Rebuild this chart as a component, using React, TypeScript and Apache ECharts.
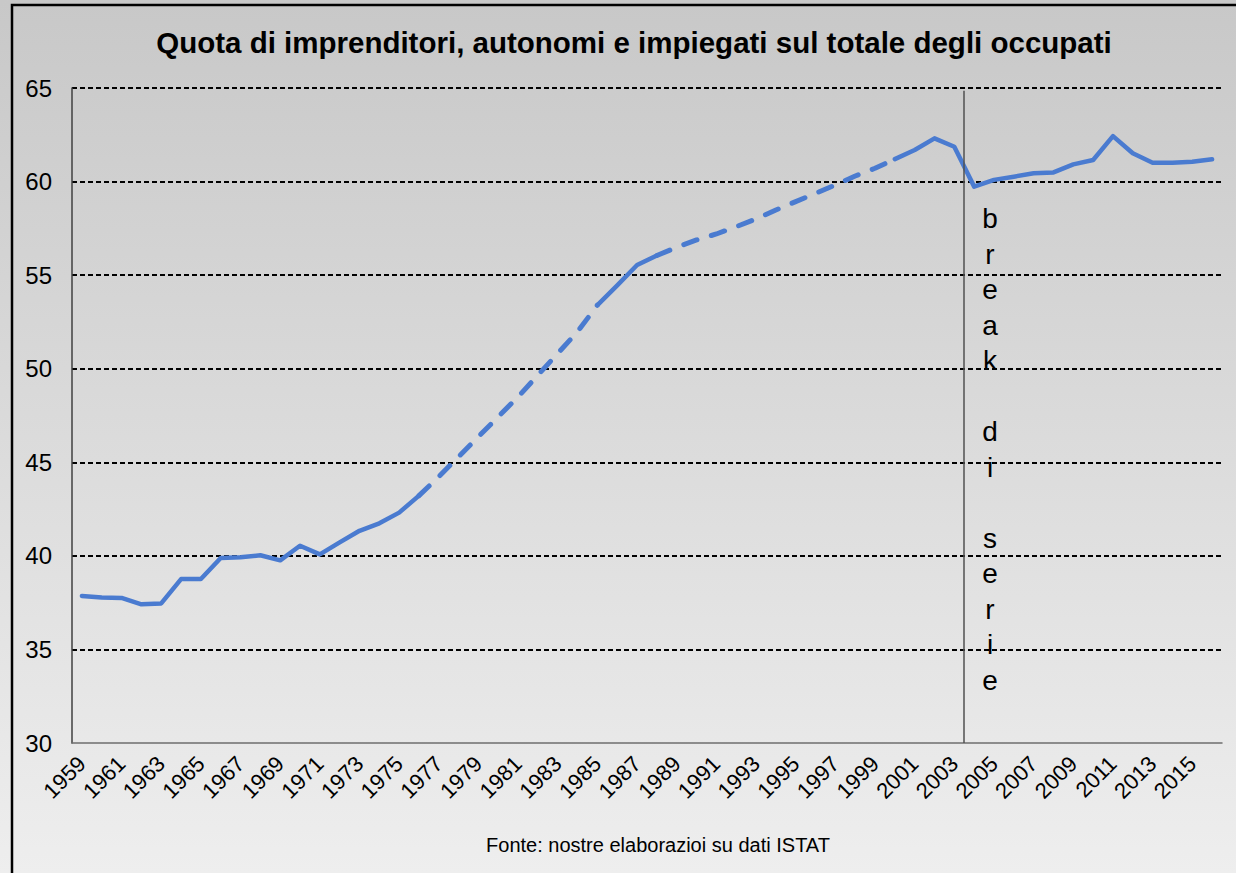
import React, { useEffect, useRef } from "react";
import * as echarts from "echarts";

const years: string[] = [];
for (let y = 1959; y <= 2016; y++) years.push(String(y));

const values: number[] = [
  37.86, 37.77, 37.75, 37.41, 37.46, 38.76, 38.76, 39.89, 39.93, 40.03,
  39.76, 40.54, 40.08, 40.72, 41.34, 41.74, 42.31, 43.22, 44.23, 45.30,
  46.37, 47.44, 48.50, 49.66, 50.82, 51.98, 53.40, 54.45, 55.54, 56.05,
  56.49, 56.88, 57.20, 57.59, 58.00, 58.48, 58.93, 59.37, 59.82, 60.30,
  60.71, 61.20, 61.69, 62.31, 61.86, 59.73, 60.09, 60.26, 60.44, 60.49,
  60.92, 61.15, 62.43, 61.51, 61.01, 61.01, 61.06, 61.19,
];

const solidRanges: [number, number][] = [[1959, 1976], [1985, 1988], [2000, 2016]];
const dashedRanges: [number, number][] = [[1976, 1985], [1988, 2000]];

const yTicks = [30, 35, 40, 45, 50, 55, 60, 65];
const breakIndex = 45; // boundary between 2003 and 2004
const breakText = "b\nr\ne\na\nk\n\nd\ni\n\ns\ne\nr\ni\ne";

const title = "Quota di imprenditori, autonomi e impiegati sul totale degli occupati";
const footer = "Fonte: nostre elaborazioi su dati ISTAT";

function pick(ranges: [number, number][]) {
  return values.map((v, i) => {
    const yr = 1959 + i;
    return ranges.some(([a, b]) => yr >= a && yr <= b) ? v : null;
  });
}

const FONT = "'Liberation Sans', Arial, sans-serif";
const BLUE = "#4a7bd0";

export default function App() {
  const ref = useRef<HTMLDivElement>(null);
  useEffect(() => {
    if (!ref.current) return;
    const chart = echarts.init(ref.current, null, { renderer: "svg" });
    chart.setOption({
      animation: false,
      backgroundColor: new echarts.graphic.LinearGradient(0, 0, 0, 1, [
        { offset: 0, color: "#c8c8c8" },
        { offset: 1, color: "#eeeeee" },
      ]),
      grid: { left: 72, right: 14, top: 88, bottom: 130, containLabel: false },
      xAxis: [
        {
          type: "category",
          data: years,
          boundaryGap: true,
          axisLine: { lineStyle: { color: "#6e6e6e", width: 1.5 } },
          axisTick: { interval: 0, length: 6, lineStyle: { color: "#6e6e6e", width: 1.5 } },
          axisLabel: {
            interval: 1,
            rotate: 45,
            margin: 17,
            fontFamily: FONT,
            fontSize: 22,
            color: "#000",
          },
          splitLine: { show: false },
        },
        { type: "value", min: 0, max: years.length, show: false },
      ],
      yAxis: {
        type: "value",
        min: 30,
        max: 65,
        interval: 5,
        axisLine: { show: true, lineStyle: { color: "#404040", width: 1.5 } },
        axisTick: { show: false },
        axisLabel: {
          margin: 20,
          fontFamily: FONT,
          fontSize: 24,
          color: "#000",
          customValues: yTicks,
        },
        splitLine: {
          show: true,
          showMinLine: false,
          lineStyle: { color: "#000", width: 2, type: [5, 3] },
        },
      },
      series: [
        {
          type: "line",
          data: pick(solidRanges),
          symbol: "none",
          connectNulls: false,
          lineStyle: { color: BLUE, width: 4.5, cap: "round", join: "round" },
          z: 3,
        },
        {
          type: "line",
          data: pick(dashedRanges),
          symbol: "none",
          connectNulls: false,
          lineStyle: { color: BLUE, width: 5, type: [14, 15], cap: "round" },
          z: 3,
        },
        {
          type: "line",
          xAxisIndex: 1,
          data: [[breakIndex, 30]],
          symbol: "none",
          lineStyle: { opacity: 0 },
          silent: true,
          markLine: {
            silent: true,
            symbol: "none",
            label: { show: false },
            lineStyle: { color: "#505050", width: 1.5, type: "solid" },
            data: [[{ coord: [breakIndex, 30] }, { coord: [breakIndex, 64.85] }]],
          },
          z: 2,
        },
      ],
      graphic: [
        {
          type: "rect",
          shape: { x: 12, y: 5, width: 1400, height: 1000 },
          style: { fill: "none", stroke: "#000", lineWidth: 2.5 },
          silent: true,
        },
        {
          type: "text",
          x: 634,
          y: 42,
          style: {
            text: title,
            fontFamily: FONT,
            fontSize: 29.5,
            fontWeight: "bold",
            fill: "#000",
            align: "center",
            verticalAlign: "middle",
          },
        },
        {
          type: "text",
          x: 990,
          y: 201,
          style: {
            text: breakText,
            fontFamily: FONT,
            fontSize: 28,
            lineHeight: 35.5,
            fill: "#000",
            align: "center",
            verticalAlign: "top",
          },
        },
        {
          type: "text",
          x: 658,
          y: 845,
          style: {
            text: footer,
            fontFamily: FONT,
            fontSize: 20,
            fill: "#000",
            align: "center",
            verticalAlign: "middle",
          },
        },
      ],
    });
    return () => chart.dispose();
  }, []);
  return (
    <div
      ref={ref}
      style={{ position: "absolute", left: 0, top: 0, width: 1236, height: 873 }}
    />
  );
}
